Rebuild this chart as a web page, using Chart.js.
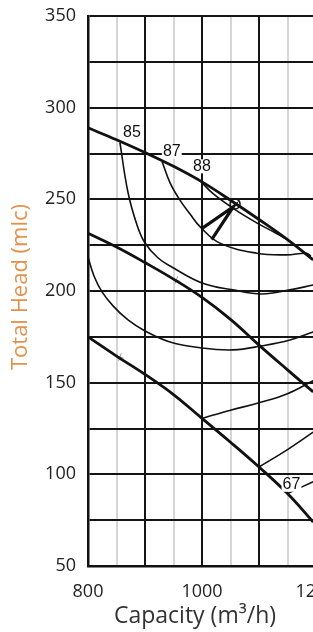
<!DOCTYPE html>
<html>
<head>
<meta charset="utf-8">
<script src="https://cdn.jsdelivr.net/npm/chart.js@4.4.1/dist/chart.umd.min.js"></script>
<style>
  html, body { margin: 0; padding: 0; background: #fff; overflow: hidden; }
  canvas { display: block; }
</style>
</head>
<body>
<canvas id="chart" width="340" height="632"></canvas>
<script>
// head curves for the three impeller sizes (capacity m3/h -> head m)
const headA_q = [800, 850, 900, 950, 1000, 1050, 1100, 1150, 1195];
const headA_h = [289, 282.5, 275.5, 268, 259.5, 249.5, 239, 228, 217];
const headB_q = [800, 850, 900, 950, 1000, 1050, 1100, 1150, 1195];
const headB_h = [231.5, 224, 215.5, 206.5, 196.5, 184.5, 170.5, 157, 145];
const headC_q = [800, 850, 900, 950, 1000, 1050, 1100, 1150, 1195];
const headC_h = [175, 164.5, 154.5, 143.5, 130.5, 117.5, 104, 89.5, 74];

// efficiency contours
const eff85_q = [856, 870, 886, 900, 923, 947, 1000, 1054, 1105, 1154, 1195];
const eff85_h = [281, 254, 236, 226.2, 218, 213.1, 204.4, 200.6, 198.4, 200.6, 203.3];
const eff87_q = [930, 944, 961, 979, 996.5, 1031.5, 1096, 1148.5, 1183.5, 1191];
const eff87_h = [270.5, 259, 249.7, 242, 235.1, 226.1, 220.6, 219.7, 220.6, 219];
const eff88_q = [997, 1020, 1060, 1100, 1130, 1150];
const eff88_h = [260, 253, 244, 236.5, 231.5, 228];
const effLow1_q = [800, 810.5, 824.6, 843.9, 870.2, 900, 943.8, 1000, 1054.4, 1105.2, 1154.3, 1195];
const effLow1_h = [218.6, 208.2, 199.5, 191.9, 184.2, 178.2, 172.2, 168.9, 167.9, 170.1, 173.3, 177.7];
const effLow2_q = [1000, 1050, 1100, 1150, 1195];
const effLow2_h = [130.5, 135, 139, 144, 151];
const effLow3_q = [1100, 1150, 1195];
const effLow3_h = [104, 113.5, 123];
const eff67_q = [1150, 1195];
const eff67_h = [89.5, 96];

// duty point and pointer
const dutyQ = [1058];
const dutyH = [247.5];
const pointerQ = [999.5, 1055, 1017];
const pointerH = [234, 246, 228];
const crossQ = [955, 856];
const crossH = [206, 164];

// contour labels
const effLabels = ['85', '87', '88', '67'];
const effLabelQ = [877, 947, 1000, 1157];
const effLabelH = [286.5, 276, 268, 94.3];

// axes
const xTicksShown = [800, 1000, 1200];
const yTicksShown = [50, 100, 150, 200, 250, 300, 350];

const pts = (q, h) => q.map((v, i) => ({ x: v, y: h[i] }));

function curve(q, h, width) {
  return {
    data: pts(q, h),
    borderColor: '#111',
    borderWidth: width,
    pointRadius: 0,
    tension: 0.4,
    fill: false,
  };
}

const overlay = {
  id: 'overlay',
  afterDatasetsDraw(chart) {
    const { ctx, scales: { x, y } } = chart;
    ctx.save();
    ctx.font = '16px "Liberation Sans Narrow", "Liberation Sans", sans-serif';
    ctx.textAlign = 'center';
    ctx.textBaseline = 'middle';
    effLabels.forEach((t, i) => {
      const px = x.getPixelForValue(effLabelQ[i]);
      const py = y.getPixelForValue(effLabelH[i]);
      const w = ctx.measureText(t).width;
      ctx.fillStyle = '#fff';
      ctx.fillRect(px - w / 2 - 1, py - 7, w + 2, 14);
      ctx.fillStyle = '#111';
      ctx.fillText(t, px, py);
    });

    // axis titles
    ctx.font = '23px "Open Sans", sans-serif';
    ctx.fillStyle = '#333';
    ctx.fillText('Capacity (m³/h)', 195, 616);
    ctx.translate(21, 287);
    ctx.rotate(-Math.PI / 2);
    ctx.font = '22px "Open Sans", sans-serif';
    ctx.fillStyle = '#e3924c';
    ctx.fillText('Total Head (mlc)', 0, 0);
    ctx.restore();
  }
};

new Chart(document.getElementById('chart'), {
  type: 'line',
  data: {
    datasets: [
      curve(headA_q, headA_h, 2.8),
      curve(headB_q, headB_h, 2.8),
      curve(headC_q, headC_h, 2.8),
      curve(eff85_q, eff85_h, 1.6),
      curve(eff87_q, eff87_h, 1.6),
      curve(eff88_q, eff88_h, 1.6),
      curve(effLow1_q, effLow1_h, 1.6),
      curve(effLow2_q, effLow2_h, 1.6),
      curve(effLow3_q, effLow3_h, 1.6),
      curve(eff67_q, eff67_h, 1.6),
      {
        data: pts(pointerQ, pointerH),
        borderColor: '#111',
        borderWidth: 3.2,
        pointRadius: 0,
        tension: 0,
      },
      {
        data: pts(dutyQ, dutyH),
        showLine: false,
        pointRadius: 5,
        pointBorderWidth: 1.5,
        pointBorderColor: '#111',
        pointBackgroundColor: 'rgba(255,255,255,0)',
      },
      {
        data: pts(crossQ, crossH),
        showLine: false,
        pointStyle: 'cross',
        pointRadius: 4,
        pointRotation: 20,
        pointBorderWidth: 1,
        pointBorderColor: '#999',
      },
    ]
  },
  options: {
    responsive: false,
    animation: false,
    layout: { padding: { left: 0, top: 16, right: 24, bottom: 0 } },
    plugins: { legend: { display: false }, tooltip: { enabled: false } },
    scales: {
      x: {
        type: 'linear',
        min: 800, max: 1200,
        afterFit: s => { s.height = 66; s.paddingLeft = 0; s.paddingRight = 0; },
        border: { display: true, color: '#111', width: 2.5 },
        grid: {
          drawTicks: false,
          color: c => c.tick.value % 100 === 0 ? '#151515' : '#d6d6d6',
          lineWidth: 2,
        },
        ticks: {
          stepSize: 50,
          autoSkip: false,
          maxRotation: 0,
          padding: 15,
          color: '#222',
          font: { family: '"Open Sans", sans-serif', size: 18 },
          callback: v => xTicksShown.includes(v) ? v : '',
        },
      },
      y: {
        min: 50, max: 350,
        afterFit: s => { s.width = 88; s.paddingTop = 0; s.paddingBottom = 0; },
        border: { display: true, color: '#111', width: 2.5 },
        grid: {
          drawTicks: false,
          color: '#151515',
          lineWidth: 2,
        },
        ticks: {
          stepSize: 25,
          autoSkip: false,
          padding: 12,
          color: '#222',
          font: { family: '"Open Sans", sans-serif', size: 18 },
          callback: v => yTicksShown.includes(v) ? v : '',
        },
      },
    },
  },
  plugins: [overlay],
});
</script>
</body>
</html>
